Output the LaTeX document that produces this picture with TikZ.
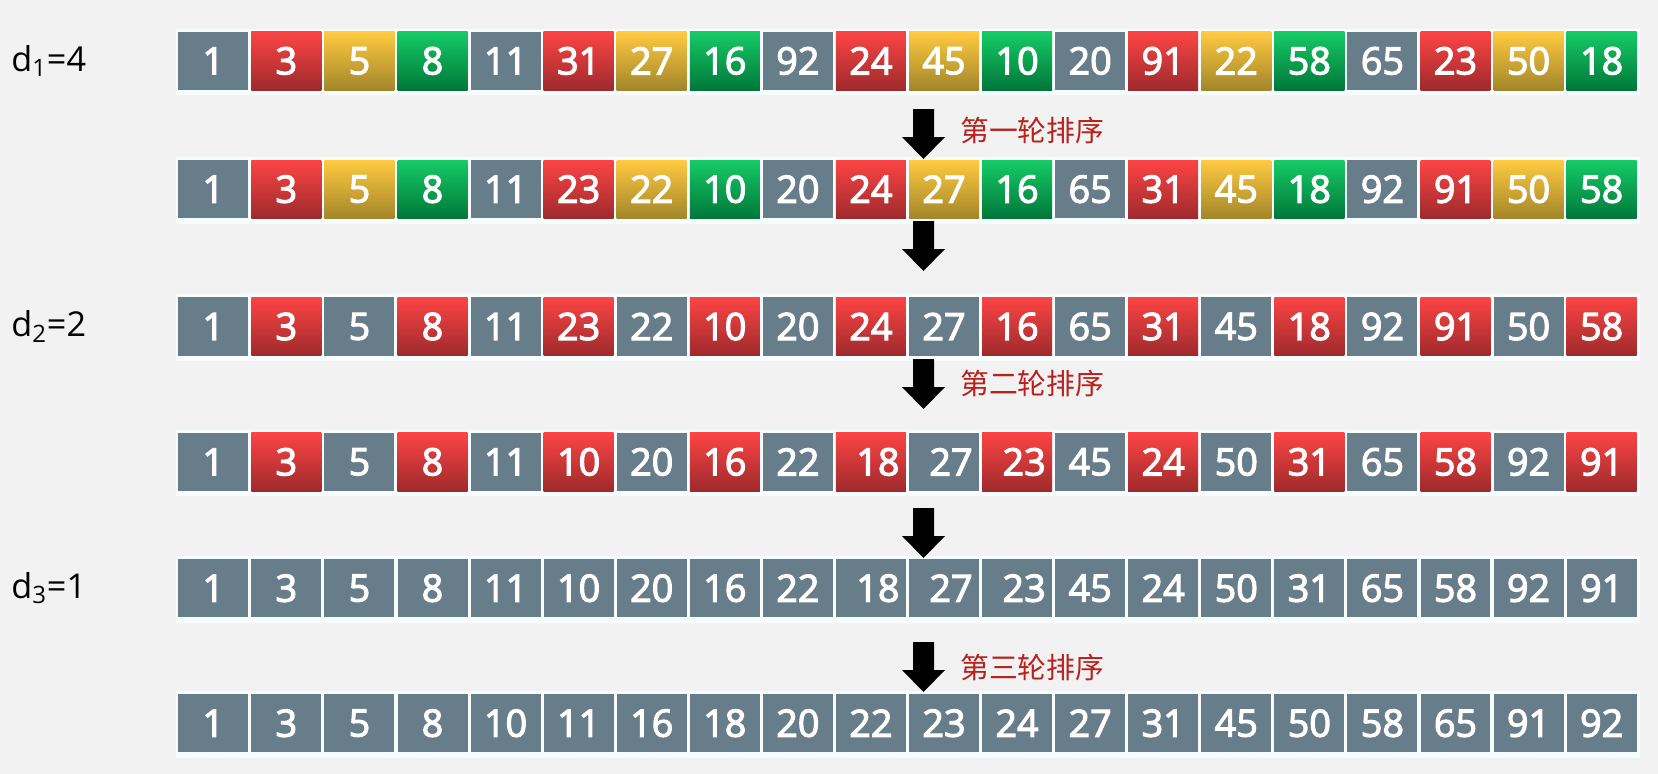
\documentclass[tikz,border=0pt]{standalone}
\usepackage{fontspec}
\setmainfont{Open Sans}
\newfontfamily\numfont{Open Sans}[FakeBold=3]
\newfontfamily\cjk{Noto Sans CJK SC}

\definecolor{bgcol}{HTML}{F2F2F2}
\definecolor{slate}{HTML}{687D8A}
\definecolor{redtop}{HTML}{FC4444}
\definecolor{redbot}{HTML}{9E2A2C}
\definecolor{yeltop}{HTML}{FFCA40}
\definecolor{yelbot}{HTML}{A2862A}
\definecolor{grntop}{HTML}{16CB66}
\definecolor{grnbot}{HTML}{00773A}
\definecolor{lblred}{HTML}{B8221E}

\newcommand\pad{\hspace{0.28cm}}

\tikzset{
  cell/.style={minimum width=1.4cm, minimum height=1.166cm, inner sep=0pt,
    text=white, font=\numfont\fontsize{21.5}{24}\selectfont},
  gc/.style={fill=slate},
  rc/.style={top color=redtop, bottom color=redbot},
  yc/.style={top color=yeltop, bottom color=yelbot},
  nc/.style={top color=grntop, bottom color=grnbot},
  backdrop/.style={fill=white!97!cyan},
  gaplbl/.style={anchor=west, inner sep=0pt, font=\fontsize{19.5}{23}\selectfont},
  roundlbl/.style={anchor=west, inner sep=0pt, text=lblred, font=\cjk\fontsize{16.4}{20}\selectfont},
}

\begin{document}
\begin{tikzpicture}[x=0.02cm, y=-0.02cm]

  % Background
  \fill[bgcol] (0,0) rectangle (1658,774);
  \useasboundingbox (0,0) rectangle (1658,774);

  % White strips behind the rows
  \foreach \t in {31.7,160,297.3,432.7,559,694}
    \fill[backdrop] (175.5,\t-3) rectangle (1639.5,\t+63.5);

  % Row 1
  \foreach \v/\s [count=\i from 0] in {1/gc,3/rc,5/yc,8/nc,11/gc,31/rc,27/yc,16/nc,92/gc,24/rc,45/yc,10/nc,20/gc,91/rc,22/yc,58/nc,65/gc,23/rc,50/yc,18/nc}
    \node[cell,\s] (r1-\i) at ({213.3+73.07*\i},60.9) {\v};

  % Row 2
  \foreach \v/\s [count=\i from 0] in {1/gc,3/rc,5/yc,8/nc,11/gc,23/rc,22/yc,10/nc,20/gc,24/rc,27/yc,16/nc,65/gc,31/rc,45/yc,18/nc,92/gc,91/rc,50/yc,58/nc}
    \node[cell,\s] (r2-\i) at ({213.3+73.07*\i},189.2) {\v};

  % Row 3
  \foreach \v/\s [count=\i from 0] in {1/gc,3/rc,5/gc,8/rc,11/gc,23/rc,22/gc,10/rc,20/gc,24/rc,27/gc,16/rc,65/gc,31/rc,45/gc,18/rc,92/gc,91/rc,50/gc,58/rc}
    \node[cell,\s] (r3-\i) at ({213.3+73.07*\i},326.5) {\v};

  % Row 4
  \foreach \v/\s [count=\i from 0] in {1/gc,3/rc,5/gc,8/rc,11/gc,10/rc,20/gc,16/rc,22/gc,\pad 18/rc,\pad 27/gc,\pad 23/rc,45/gc,24/rc,50/gc,31/rc,65/gc,58/rc,92/gc,91/rc}
    \node[cell,\s] (r4-\i) at ({213.3+73.07*\i},461.9) {\v};

  % Row 5
  \foreach \v [count=\i from 0] in {1,3,5,8,11,10,20,16,22,\pad 18,\pad 27,\pad 23,45,24,50,31,65,58,92,91}
    \node[cell,gc] (r5-\i) at ({213.3+73.07*\i},588.2) {\v};

  % Row 6
  \foreach \v [count=\i from 0] in {1,3,5,8,10,11,16,18,20,22,23,24,27,31,45,50,58,65,91,92}
    \node[cell,gc] (r6-\i) at ({213.3+73.07*\i},723.2) {\v};

  % Gap labels
  \node[gaplbl] (gap1) at (11,60.9) {d\textsubscript{1}=4};
  \node[gaplbl] (gap2) at (11,326.5) {d\textsubscript{2}=2};
  \node[gaplbl] (gap3) at (11,588.2) {d\textsubscript{3}=1};

  % Block arrows
  \foreach \ya in {109,221,359,508,642}
    \fill[black] (913,\ya) -- (934,\ya) -- (934,\ya+28) -- (945,\ya+28)
      -- (923.5,\ya+50) -- (902,\ya+28) -- (913,\ya+28) -- cycle;

  % Pass labels
  \node[roundlbl] (pass1) at (960,131) {第一轮排序};
  \node[roundlbl] (pass2) at (960,384) {第二轮排序};
  \node[roundlbl] (pass3) at (960,668) {第三轮排序};

\end{tikzpicture}
\end{document}
